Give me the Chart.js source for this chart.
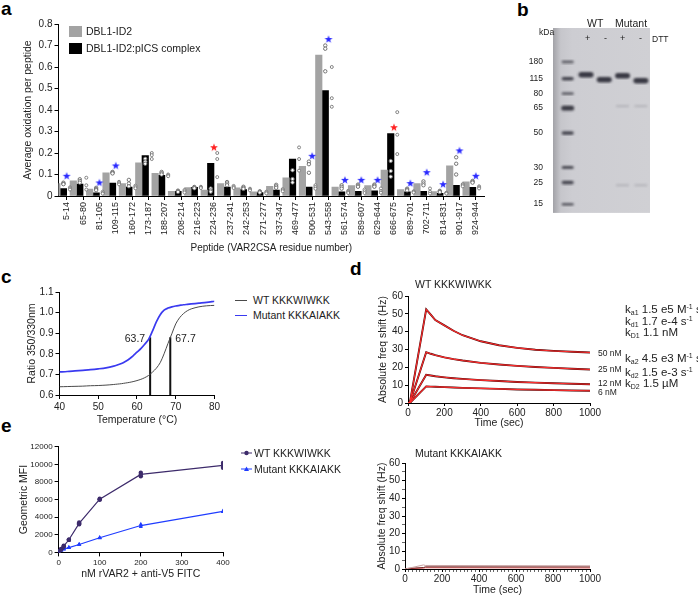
<!DOCTYPE html>
<html>
<head>
<meta charset="utf-8">
<script src="https://cdn.jsdelivr.net/npm/chart.js@4.4.1/dist/chart.umd.min.js"></script>
<style>
  html, body { margin: 0; padding: 0; background: #fff; }
  body { width: 698px; height: 595px; position: relative; overflow: hidden;
         font-family: 'Liberation Sans', Arial, sans-serif; color: #222; }
  canvas { position: absolute; }
  .t { position: absolute; white-space: nowrap; line-height: 1; }
  .L { font-weight: bold; font-size: 19px; color: #000; }
  .k { font-size: 11.5px; }
  .k sub { font-size: 7px; vertical-align: -2px; }
  .k sup { font-size: 7px; vertical-align: 4px; }
  .sw { position: absolute; }
</style>
</head>
<body>
<div class="t L" style="left:1px;top:-1px">a</div>
<div class="t L" style="left:517px;top:0px">b</div>
<div class="t L" style="left:1px;top:267px">c</div>
<div class="t L" style="left:350px;top:259px">d</div>
<div class="t L" style="left:1px;top:416px">e</div>

<canvas id="chartA" width="480" height="258" style="left:18px;top:0px"></canvas>
<div class="sw" style="left:69px;top:26px;width:13px;height:11px;background:#a3a3a3"></div>
<div class="sw" style="left:69px;top:43px;width:13px;height:11px;background:#000"></div>
<div class="t" style="left:86px;top:26px;font-size:10.5px">DBL1-ID2</div>
<div class="t" style="left:86px;top:43px;font-size:10.5px">DBL1-ID2:pICS complex</div>

<canvas id="chartB" width="135" height="200" style="left:520px;top:20px"></canvas>
<div class="t" style="left:539px;top:28px;font-size:8.5px">kDa</div>
<div class="t" style="left:587px;top:18px;font-size:10.5px">WT</div>
<div class="t" style="left:615px;top:18px;font-size:10.5px">Mutant</div>
<div class="t" style="left:585px;top:34px;font-size:9px">+</div>
<div class="t" style="left:604px;top:34px;font-size:9px">-</div>
<div class="t" style="left:620px;top:34px;font-size:9px">+</div>
<div class="t" style="left:639px;top:34px;font-size:9px">-</div>
<div class="t" style="left:652px;top:35px;font-size:8.5px">DTT</div>

<canvas id="chartC" width="200" height="150" style="left:22px;top:280px"></canvas>
<div class="sw" style="left:235px;top:300px;width:12px;height:1px;background:#4a4a4a"></div>
<div class="sw" style="left:235px;top:314.5px;width:12px;height:1.5px;background:#3a3af0"></div>
<div class="t" style="left:253px;top:295px;font-size:10.5px">WT KKKWIWKK</div>
<div class="t" style="left:253px;top:310px;font-size:10.5px">Mutant KKKAIAKK</div>

<canvas id="chartD1" width="232" height="153" style="left:373px;top:280px"></canvas>
<div class="t" style="left:415px;top:279px;font-size:10.5px">WT KKKWIWKK</div>
<div class="t" style="left:598px;top:349px;font-size:8.5px">50 nM</div>
<div class="t" style="left:598px;top:365px;font-size:8.5px">25 nM</div>
<div class="t" style="left:598px;top:379px;font-size:8.5px">12 nM</div>
<div class="t" style="left:598px;top:388px;font-size:8.5px">6 nM</div>
<div class="t k" style="left:625px;top:303px">k<sub>a1</sub> 1.5 e5 M<sup>-1</sup> s<sup>-1</sup></div>
<div class="t k" style="left:625px;top:315px">k<sub>d1</sub> 1.7 e-4 s<sup>-1</sup></div>
<div class="t k" style="left:625px;top:327px">k<sub>D1</sub> 1.1 nM</div>
<div class="t k" style="left:625px;top:352px">k<sub>a2</sub> 4.5 e3 M<sup>-1</sup> s<sup>-1</sup></div>
<div class="t k" style="left:625px;top:366px">k<sub>d2</sub> 1.5 e-3 s<sup>-1</sup></div>
<div class="t k" style="left:625px;top:378px">k<sub>D2</sub> 1.5 µM</div>

<canvas id="chartD2" width="233" height="152" style="left:372px;top:448px"></canvas>
<div class="t" style="left:415px;top:448px;font-size:10.5px">Mutant KKKAIAKK</div>

<canvas id="chartE" width="226" height="148" style="left:14px;top:436px"></canvas>
<svg class="sw" style="left:240px;top:448px" width="14" height="26">
  <line x1="1" y1="5" x2="12" y2="5" stroke="#3d2b6b" stroke-width="1"/>
  <circle cx="6.5" cy="5" r="2.2" fill="#3d2b6b"/>
  <line x1="1" y1="21" x2="12" y2="21" stroke="#1f3cff" stroke-width="1"/>
  <polygon points="6.5,18.5 9,23 4,23" fill="#1f3cff"/>
</svg>
<div class="t" style="left:254px;top:448px;font-size:10.5px">WT KKKWIWKK</div>
<div class="t" style="left:254px;top:464px;font-size:10.5px">Mutant KKKAIAKK</div>

<script>
// ---- panel a: oxidation per peptide ----
const peptides = ['5-14','65-80','81-105','109-115','160-172','173-187','188-207','208-214','216-223','224-236',
  '237-241','242-253','271-277','337-347','469-477','500-531','543-558','561-574','589-607','629-644',
  '666-675','689-701','702-711','814-831','901-917','924-944'];
const freeMean = [0.058,0.07,0.032,0.108,0.058,0.154,0.106,0.022,0.039,0.027,0.058,0.038,0.019,0.045,0.085,
  0.138,0.655,0.042,0.048,0.048,0.12,0.03,0.058,0.021,0.14,0.066];
const complexMean = [0.035,0.055,0.015,0.06,0.042,0.188,0.096,0.022,0.04,0.152,0.042,0.03,0.016,0.027,0.172,
  0.042,0.49,0.019,0.022,0.024,0.29,0.019,0.022,0.013,0.05,0.04];
const freeReps = [[0.062,0.057,0.055],[0.078,0.07,0.062],[0.038,0.032,0.027],[0.112,0.108,0.105],[0.075,0.058,0.045],
  [0.173,0.16,0.15],[0.112,0.106,0.1],[0.025,0.022,0.019],[0.042,0.039,0.036],[0.035,0.026,0.02],
  [0.065,0.058,0.05],[0.043,0.038,0.033],[0.022,0.019,0.016],[0.052,0.045,0.038],[0.12,0.079,0.063],
  [0.16,0.148,0.108],[0.7,0.685,0.58],[0.05,0.042,0.034],[0.053,0.048,0.043],[0.053,0.048,0.043],
  [0.163,0.116,0.09],[0.034,0.03,0.026],[0.068,0.058,0.05],[0.024,0.021,0.018],[0.18,0.15,0.1],[0.07,0.066,0.062]];
const complexReps = [[0.04,0.035,0.03],[0.085,0.05,0.03],[0.02,0.014,0.011],[0.066,0.06,0.054],[0.048,0.042,0.036],
  [0.2,0.19,0.172],[0.1,0.096,0.092],[0.028,0.022,0.016],[0.043,0.04,0.037],[0.2,0.172,0.088],
  [0.047,0.042,0.037],[0.034,0.03,0.026],[0.02,0.016,0.012],[0.032,0.027,0.022],[0.226,0.172,0.118],
  [0.05,0.042,0.034],[0.6,0.455,0.415],[0.024,0.019,0.014],[0.03,0.022,0.014],[0.035,0.022,0.015],
  [0.39,0.285,0.195],[0.022,0.019,0.016],[0.035,0.02,0.011],[0.015,0.013,0.011],[0.055,0.05,0.045],[0.045,0.04,0.035]];
const blueStarIdx = [0,2,3,15,16,17,18,19,21,22,23,24,25];
const blueStarY = [0.094,0.063,0.142,0.187,0.73,0.075,0.075,0.075,0.06,0.111,0.055,0.212,0.094];
const redStarIdx = [9,20];
const redStarY = [0.227,0.32];
const oxTicks = [0,0.1,0.2,0.3,0.4,0.5,0.6,0.7,0.8];

// ---- panel b: gel ----
const ladderKda = [180,115,80,65,50,30,25,15];
const ladderMigration = [34,51,66,81,106,141,156,178];
const sampleLanes = [1.5,2.5,3.5,4.5];
const sampleMigration = [47,52,48,53];
const faintLanes = [3.5,4.5,3.5,4.5];
const faintMigration = [79,79,159,159];

// ---- panel c: nanoDSF ----
const temps = [40,42,44,46,48,50,52,54,55,56,57,58,59,60,61,62,63,64,65,66,67,68,69,70,71,72,73,74,76,78,80];
const ratioWT = [0.640,0.641,0.642,0.643,0.645,0.646,0.648,0.651,0.653,0.655,0.658,0.661,0.665,0.670,0.676,0.684,
  0.695,0.711,0.730,0.757,0.800,0.850,0.897,0.945,0.975,0.995,1.009,1.018,1.028,1.033,1.035];
const ratioMut = [0.712,0.714,0.717,0.720,0.723,0.727,0.732,0.740,0.746,0.753,0.763,0.775,0.790,0.808,0.825,0.846,
  0.870,0.910,0.955,0.990,1.012,1.022,1.028,1.032,1.035,1.038,1.040,1.042,1.046,1.050,1.055];
const tmLabels = ['63.7','67.7'];
const tmLineX = [63.4,68.6];
const tmLineTop = 0.88;

// ---- panel d: QCM binding ----
const times = [0,10,100,125,150,200,250,300,400,500,600,700,800,900,1000];
const shift50 = [0,0,52.5,49.5,46.5,43.5,40.5,38,34.6,32.4,30.9,29.9,29.2,28.7,28.3];
const shift25 = [0,0,28.5,27.6,26.8,25.6,24.6,23.8,22.5,21.6,20.8,20.2,19.7,19.2,18.8];
const shift12 = [0,0,15.8,15.4,15.0,14.4,13.9,13.5,12.8,12.3,11.8,11.4,11.1,10.8,10.5];
const shift6 = [0,0,9.3,9.2,9.1,8.9,8.7,8.5,8.2,7.9,7.6,7.4,7.2,7.0,6.9];
const mutTimes = [0,10,100,110,1000];
const mutShiftA = [0,0.2,2.3,2.0,1.8];
const mutShiftB = [0,0.3,0.8,1.2,1.2];
const mutShiftC = [0,0.2,0.5,0.7,0.6];

// ---- panel e: flow cytometry ----
const conc = [0,6.25,12.5,25,50,100,200,400];
const mfiWT = [135,350,700,1435,3300,6040,8850,9875];
const mfiWTRepA = [150,380,750,1450,3400,6100,9050,10150];
const mfiWTRepB = [120,320,650,1420,3200,5980,8650,9600];
const mfiMut = [100,250,380,550,900,1660,3050,4660];
const mfiMutRepA = [110,260,400,560,920,1700,3200,4700];
const mfiMutRepB = [90,240,360,540,880,1620,2900,4620];

Chart.defaults.font.family = "'Liberation Sans', Arial, sans-serif";
Chart.defaults.font.size = 10;
Chart.defaults.color = '#222';
Chart.defaults.animation = false;
Chart.defaults.events = [];
Chart.defaults.plugins.legend.display = false;
Chart.defaults.plugins.tooltip.enabled = false;

const xy = (xs, ys) => xs.map((x, i) => ({x: x, y: ys[i]}));
const fixW = w => s => { s.width = w; };
const fixH = h => s => { s.height = h; };
const axisLine = {color: '#000', width: 1};
const tickGrid = {drawOnChartArea: false, color: '#000', tickLength: 4};

function starImage(color) {
  const c = document.createElement('canvas');
  c.width = 10; c.height = 10;
  const g = c.getContext('2d');
  g.fillStyle = color;
  g.beginPath();
  for (let k = 0; k < 10; k++) {
    const r = k % 2 ? 1.7 : 4.2;
    const a = -Math.PI / 2 + k * Math.PI / 5;
    g.lineTo(5 + r * Math.cos(a), 5.4 + r * Math.sin(a));
  }
  g.closePath();
  g.fill();
  return c;
}

function replicatePoints(reps, shift) {
  const pts = [];
  reps.forEach((r, i) => r.forEach(v => pts.push({x: i + shift, y: v})));
  return pts;
}

// panel a: bars are 6.5 px each (about 0.4 of a 16.4 px category), replicate dots sit on the bar centres
const barPx = 6.5;
const dotShift = 0.2;
new Chart(document.getElementById('chartA'), {
  type: 'bar',
  data: {
    labels: peptides,
    datasets: [
      {data: freeMean, backgroundColor: '#a3a3a3', barThickness: barPx, order: 1},
      {data: complexMean, backgroundColor: '#000', barThickness: barPx, order: 1},
      {type: 'scatter', xAxisID: 'xd', data: replicatePoints(freeReps, -dotShift), order: 0,
       pointRadius: 1.7, borderWidth: 0.9, borderColor: '#666', backgroundColor: '#fff'},
      {type: 'scatter', xAxisID: 'xd', data: replicatePoints(complexReps, dotShift), order: 0,
       pointRadius: 1.5, borderWidth: 0.9, borderColor: '#777', backgroundColor: '#fff'},
      {type: 'scatter', xAxisID: 'xd', data: xy(blueStarIdx, blueStarY), order: 0,
       pointStyle: starImage('#2a2aff')},
      {type: 'scatter', xAxisID: 'xd', data: xy(redStarIdx, redStarY), order: 0,
       pointStyle: starImage('#ff2020')}
    ]
  },
  options: {
    responsive: false,
    layout: {padding: {top: 24, right: 14}},
    scales: {
      x: {
        grid: Object.assign({offset: false}, tickGrid),
        border: axisLine,
        ticks: {autoSkip: false, minRotation: 90, maxRotation: 90, padding: 2, font: {size: 9}},
        title: {display: true, text: 'Peptide (VAR2CSA residue number)', font: {size: 10}},
        afterFit: fixH(62)
      },
      xd: {type: 'linear', offset: false, min: -0.5, max: peptides.length - 0.5, display: false},
      y: {
        min: 0, max: 0.8,
        grid: tickGrid,
        border: axisLine,
        afterBuildTicks: s => { s.ticks = oxTicks.map(v => ({value: v})); },
        ticks: {padding: 2, font: {size: 10}, callback: v => v === 0 ? '0' : v.toFixed(1)},
        title: {display: true, text: 'Average oxidation per peptide', font: {size: 10.5}},
        afterFit: fixW(40.5)
      }
    }
  }
});

// panel b
function bandImage(w, h, alpha) {
  const c = document.createElement('canvas');
  c.width = w + 4; c.height = h + 4;
  const g = c.getContext('2d');
  g.filter = 'blur(0.8px)';
  g.fillStyle = 'rgba(45,45,55,' + alpha + ')';
  g.beginPath();
  g.roundRect(2, 2, w, h, h / 2);
  g.fill();
  return c;
}
const gelBackground = {
  id: 'gelBackground',
  beforeDatasetsDraw(chart) {
    const {ctx, chartArea: a} = chart;
    const grad = ctx.createLinearGradient(a.left, 0, a.right, 0);
    grad.addColorStop(0, '#a2a2a7');
    grad.addColorStop(0.08, '#c6c6cb');
    grad.addColorStop(0.2, '#cdcdd2');
    grad.addColorStop(1, '#d0d0d4');
    ctx.save();
    ctx.fillStyle = grad;
    ctx.fillRect(a.left, a.top, a.width, a.height);
    ctx.restore();
  }
};
const ladderStyles = [bandImage(12, 2.5, 0.75), bandImage(12, 3.5, 0.85), bandImage(12, 2.5, 0.75),
  bandImage(13, 5, 0.9), bandImage(12, 3.5, 0.85), bandImage(12, 3, 0.8), bandImage(12, 3.5, 0.85), bandImage(12, 2.5, 0.75)];
new Chart(document.getElementById('chartB'), {
  type: 'scatter',
  data: {
    datasets: [
      {data: ladderMigration.map(m => ({x: 0.5, y: m})), pointStyle: ladderStyles},
      {data: xy(sampleLanes, sampleMigration), pointStyle: bandImage(15, 5.5, 0.92)},
      {data: xy(faintLanes, faintMigration), pointStyle: bandImage(13, 2, 0.16)}
    ]
  },
  options: {
    responsive: false,
    layout: {padding: {top: 8, right: 5, bottom: 5}},
    scales: {
      x: {min: -0.3, max: 5, display: false},
      y: {
        reverse: true, min: 0, max: 187,
        grid: {display: false}, border: {display: false},
        afterBuildTicks: s => { s.ticks = ladderMigration.map(v => ({value: v})); },
        ticks: {padding: 2, font: {size: 8.5}, callback: v => String(ladderKda[ladderMigration.indexOf(v)])},
        afterFit: fixW(33)
      }
    }
  },
  plugins: [gelBackground]
});

// panel c
const meltLabels = {
  id: 'meltLabels',
  afterDatasetsDraw(chart) {
    const {ctx, scales: {x, y}} = chart;
    ctx.save();
    ctx.font = "10.5px 'Liberation Sans', Arial, sans-serif";
    ctx.fillStyle = '#222';
    ctx.textBaseline = 'middle';
    const py = y.getPixelForValue(0.872);
    ctx.textAlign = 'right';
    ctx.fillText(tmLabels[0], x.getPixelForValue(tmLineX[0]) - 5, py);
    ctx.textAlign = 'left';
    ctx.fillText(tmLabels[1], x.getPixelForValue(tmLineX[1]) + 5, py);
    ctx.restore();
  }
};
new Chart(document.getElementById('chartC'), {
  type: 'line',
  data: {
    datasets: [
      {data: xy(temps, ratioWT), borderColor: '#4a4a4a', borderWidth: 1, pointRadius: 0, tension: 0.3},
      {data: xy(temps, ratioMut), borderColor: '#3a3af0', borderWidth: 1.7, pointRadius: 0, tension: 0.3},
      {data: [{x: tmLineX[0], y: 0.6}, {x: tmLineX[0], y: tmLineTop}], borderColor: '#111', borderWidth: 2, pointRadius: 0},
      {data: [{x: tmLineX[1], y: 0.6}, {x: tmLineX[1], y: tmLineTop}], borderColor: '#111', borderWidth: 2, pointRadius: 0}
    ]
  },
  options: {
    responsive: false,
    layout: {padding: {top: 12, right: 7}},
    scales: {
      x: {
        type: 'linear', min: 40, max: 80,
        grid: tickGrid, border: axisLine,
        ticks: {stepSize: 10, padding: 2, font: {size: 10}},
        title: {display: true, text: 'Temperature (°C)', font: {size: 10.5}},
        afterFit: fixH(35)
      },
      y: {
        min: 0.6, max: 1.1,
        grid: tickGrid, border: axisLine,
        ticks: {stepSize: 0.1, padding: 2, font: {size: 10}, callback: v => v.toFixed(1)},
        title: {display: true, text: 'Ratio 350/330nm', font: {size: 10.5}},
        afterFit: fixW(37.5)
      }
    }
  },
  plugins: [meltLabels]
});

// panel d: fitted (red) curves listed first so they are drawn on top of the measured (dark) traces
function bindingSets(series) {
  const sets = [];
  series.forEach(s => {
    sets.push({data: xy(times, s), borderColor: '#ff2e2e', borderWidth: 1.1, pointRadius: 0});
  });
  series.forEach(s => {
    sets.push({data: xy(times, s), borderColor: '#4a0606', borderWidth: 1.9, pointRadius: 0});
  });
  return sets;
}
function qcmScales(yWidth, xHeight, minor) {
  return {
    x: {
      type: 'linear', min: 0, max: 1000,
      grid: {drawOnChartArea: false, color: '#000', tickLength: 3,
             lineWidth: c => (c.tick && c.tick.value % 200 === 0) ? 1 : 0.6},
      border: axisLine,
      ticks: {stepSize: minor ? 20 : 200, autoSkip: false, maxRotation: 0, padding: 1, font: {size: 10},
              callback: v => v % 200 === 0 ? String(v) : ''},
      title: {display: true, text: 'Time (sec)', font: {size: 10.5}},
      afterFit: fixH(xHeight)
    },
    y: {
      min: 0, max: 60,
      grid: {drawOnChartArea: false, color: '#000', tickLength: 3,
             lineWidth: c => (c.tick && c.tick.value % 10 === 0) ? 1 : 0.6},
      border: axisLine,
      ticks: {stepSize: minor ? 5 : 10, autoSkip: false, padding: 2, font: {size: 10},
              callback: v => v % 10 === 0 ? String(v) : ''},
      title: {display: true, text: 'Absolute freq shift (Hz)', font: {size: 10.5}},
      afterFit: fixW(yWidth)
    }
  };
}
new Chart(document.getElementById('chartD1'), {
  type: 'line',
  data: {datasets: bindingSets([shift50, shift25, shift12, shift6])},
  options: {responsive: false, layout: {padding: {top: 16, right: 15}}, scales: qcmScales(35, 30, false)}
});
new Chart(document.getElementById('chartD2'), {
  type: 'line',
  data: {
    datasets: [
      {data: xy(mutTimes, mutShiftA), borderColor: '#c9a3a3', borderWidth: 1, pointRadius: 0},
      {data: xy(mutTimes, mutShiftB), borderColor: '#6b1a1a', borderWidth: 1, pointRadius: 0},
      {data: xy(mutTimes, mutShiftC), borderColor: '#e05a5a', borderWidth: 1, pointRadius: 0}
    ]
  },
  options: {responsive: false, layout: {padding: {top: 15, right: 15}}, scales: qcmScales(33, 31, true)}
});

// panel e
new Chart(document.getElementById('chartE'), {
  type: 'line',
  data: {
    datasets: [
      {data: xy(conc, mfiWT), borderColor: '#3d2b6b', backgroundColor: '#3d2b6b', borderWidth: 1.2,
       pointRadius: 2.2, pointBorderWidth: 0},
      {data: xy(conc, mfiWTRepA), showLine: false, backgroundColor: '#3d2b6b', pointRadius: 2.2, pointBorderWidth: 0},
      {data: xy(conc, mfiWTRepB), showLine: false, backgroundColor: '#3d2b6b', pointRadius: 2.2, pointBorderWidth: 0},
      {data: xy(conc, mfiMut), borderColor: '#1f3cff', backgroundColor: '#1f3cff', borderWidth: 1.2,
       pointStyle: 'triangle', pointRadius: 2.4, pointBorderWidth: 0},
      {data: xy(conc, mfiMutRepA), showLine: false, backgroundColor: '#1f3cff', pointStyle: 'triangle',
       pointRadius: 2.4, pointBorderWidth: 0},
      {data: xy(conc, mfiMutRepB), showLine: false, backgroundColor: '#1f3cff', pointStyle: 'triangle',
       pointRadius: 2.4, pointBorderWidth: 0}
    ]
  },
  options: {
    responsive: false,
    layout: {padding: {top: 10.7, right: 17}},
    scales: {
      x: {
        type: 'linear', min: 0, max: 400,
        grid: tickGrid, border: axisLine,
        ticks: {stepSize: 100, padding: 2, font: {size: 8}},
        title: {display: true, text: 'nM rVAR2 + anti-V5 FITC', font: {size: 10.5}},
        afterFit: fixH(31.6)
      },
      y: {
        min: 0, max: 12000,
        grid: tickGrid, border: axisLine,
        ticks: {stepSize: 2000, padding: 2, font: {size: 8}, callback: v => String(v)},
        title: {display: true, text: 'Geometric MFI', font: {size: 10.5}},
        afterFit: fixW(44.6)
      }
    }
  }
});
</script>
</body>
</html>
